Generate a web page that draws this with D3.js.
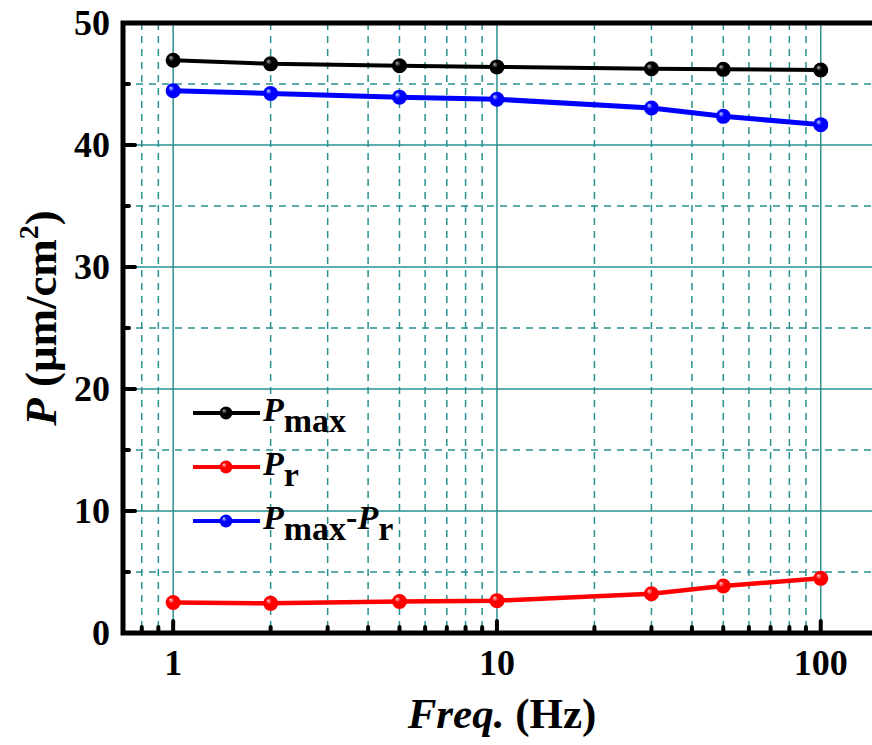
<!DOCTYPE html>
<html>
<head>
<meta charset="utf-8">
<script src="https://cdn.jsdelivr.net/npm/d3@7"></script>
<style>
  body { margin: 0; background: #fff; }
  svg { display: block; font-family: "Liberation Serif", "Times New Roman", serif; }
  .grid-major { stroke: #2a9090; stroke-width: 1.5; }
  .grid-minor { stroke: #2a9090; stroke-width: 1.5; stroke-dasharray: 7 6; }
  .frame { stroke: #000; stroke-width: 5; fill: none; }
  .tick { stroke: #000; stroke-linecap: round; }
  .ticklabel { font-size: 36px; font-weight: bold; }
</style>
</head>
<body>
<svg id="chart" width="872" height="745"></svg>
<script>
// data
var freq = [1, 2, 5, 10, 30, 50, 100];
var pMax = [46.95, 46.65, 46.5, 46.4, 46.25, 46.2, 46.15];
var pR = [2.5, 2.43, 2.58, 2.65, 3.22, 3.85, 4.48];
var pDiff = [44.45, 44.22, 43.92, 43.75, 43.03, 42.35, 41.67];

var xMajor = [1, 10, 100];
var xMinor = [0.8, 0.9, 2, 3, 4, 5, 6, 7, 8, 9, 20, 30, 40, 50, 60, 70, 80, 90];
var yMajor = [10, 20, 30, 40];
var yMinor = [5, 15, 25, 35, 45];
var yLabels = [0, 10, 20, 30, 40, 50];

var series = [
    {name: "max", sub2: null, values: pMax, color: "#000000", hi: "#b0b0b0", width: 4},
    {name: "r", sub2: null, values: pR, color: "#ff0000", hi: "#ffd0d0", width: 4.5},
    {name: "max", sub2: "r", values: pDiff, color: "#0000ff", hi: "#c8d8ff", width: 5}
];

var svg = d3.select("#chart");
var plotLeft = 123, plotRight = 873, plotTop = 23, plotBottom = 633;

var x = d3.scaleLog().domain([0.7, 145]).range([plotLeft, plotRight]);
var y = d3.scaleLinear().domain([0, 50]).range([plotBottom, plotTop]);

// shiny marker gradients
var defs = svg.append("defs");
series.forEach(function(s, i)
{
    var g = defs.append("radialGradient")
        .attr("id", "ball" + i)
        .attr("cx", "50%").attr("cy", "50%").attr("r", "55%")
        .attr("fx", "32%").attr("fy", "30%");
    g.append("stop").attr("offset", "0%").attr("stop-color", s.hi);
    g.append("stop").attr("offset", "35%").attr("stop-color", s.color);
    g.append("stop").attr("offset", "100%").attr("stop-color", s.color);
});

// grid
var grid = svg.append("g");
grid.selectAll(".vmin").data(xMinor).enter().append("line")
    .attr("class", "grid-minor")
    .attr("x1", d => x(d)).attr("x2", d => x(d))
    .attr("y1", plotTop).attr("y2", plotBottom);
grid.selectAll(".vmaj").data(xMajor).enter().append("line")
    .attr("class", "grid-major")
    .attr("x1", d => x(d)).attr("x2", d => x(d))
    .attr("y1", plotTop).attr("y2", plotBottom);
grid.selectAll(".hmin").data(yMinor).enter().append("line")
    .attr("class", "grid-minor")
    .attr("x1", plotLeft).attr("x2", 872)
    .attr("y1", d => y(d)).attr("y2", d => y(d));
grid.selectAll(".hmaj").data(yMajor).enter().append("line")
    .attr("class", "grid-major")
    .attr("x1", plotLeft).attr("x2", 872)
    .attr("y1", d => y(d)).attr("y2", d => y(d));

// ticks (inward)
var ticks = svg.append("g");
ticks.selectAll(".xt").data(xMajor).enter().append("line")
    .attr("class", "tick").attr("stroke-width", 4)
    .attr("x1", d => x(d)).attr("x2", d => x(d))
    .attr("y1", plotBottom).attr("y2", plotBottom - 12);
ticks.selectAll(".xm").data(xMinor).enter().append("line")
    .attr("class", "tick").attr("stroke-width", 4)
    .attr("x1", d => x(d)).attr("x2", d => x(d))
    .attr("y1", plotBottom).attr("y2", plotBottom - 6);
ticks.selectAll(".yt").data(yMajor).enter().append("line")
    .attr("class", "tick").attr("stroke-width", 4)
    .attr("x1", plotLeft).attr("x2", plotLeft + 12)
    .attr("y1", d => y(d)).attr("y2", d => y(d));
ticks.selectAll(".ym").data(yMinor).enter().append("line")
    .attr("class", "tick").attr("stroke-width", 4)
    .attr("x1", plotLeft).attr("x2", plotLeft + 6)
    .attr("y1", d => y(d)).attr("y2", d => y(d));

// frame: left, top, bottom
svg.append("path").attr("class", "frame")
    .attr("d", "M872," + plotTop + "H" + plotLeft + "V" + plotBottom + "H872");

// tick labels
svg.selectAll(".ylab").data(yLabels).enter().append("text")
    .attr("class", "ticklabel")
    .attr("x", 110).attr("y", d => y(d))
    .attr("dy", "0.34em")
    .attr("text-anchor", "end")
    .text(d => d);
svg.selectAll(".xlab").data(xMajor).enter().append("text")
    .attr("class", "ticklabel")
    .attr("x", d => x(d)).attr("y", 675)
    .attr("text-anchor", "middle")
    .text(d => d);

// lines and markers
var line = d3.line()
    .x((d, i) => x(freq[i]))
    .y(d => y(d));

series.forEach(function(s, i)
{
    svg.append("path")
        .attr("d", line(s.values))
        .attr("fill", "none")
        .attr("stroke", s.color)
        .attr("stroke-width", s.width);
    svg.selectAll(".m" + i).data(s.values).enter().append("circle")
        .attr("cx", (d, j) => x(freq[j]))
        .attr("cy", d => y(d))
        .attr("r", 7.5)
        .attr("fill", "url(#ball" + i + ")");
});

// legend
var legRows = [413, 467, 521];
series.forEach(function(s, i)
{
    var g = svg.append("g").attr("transform", "translate(0," + legRows[i] + ")");
    g.append("line").attr("x1", 193).attr("x2", 260).attr("y1", 0).attr("y2", 0)
        .attr("stroke", s.color).attr("stroke-width", 4);
    g.append("circle").attr("cx", 226).attr("cy", 0).attr("r", 6.5)
        .attr("fill", "url(#ball" + i + ")");
    var t = g.append("text").attr("x", 263).attr("y", 8)
        .attr("font-size", "34px").attr("font-weight", "bold");
    t.append("tspan").attr("font-style", "italic").text("P");
    t.append("tspan").attr("dy", 11).text(s.name);
    if (s.sub2)
    {
        t.append("tspan").attr("dy", -11).text("-");
        t.append("tspan").attr("font-style", "italic").text("P");
        t.append("tspan").attr("dy", 11).text(s.sub2);
    }
});

// axis titles
var xt = svg.append("text")
    .attr("x", 502).attr("y", 728)
    .attr("text-anchor", "middle")
    .attr("font-size", "43px").attr("font-weight", "bold");
xt.append("tspan").attr("font-style", "italic").text("Freq.");
xt.append("tspan").text(" (Hz)");

var yt = svg.append("text")
    .attr("transform", "translate(56,318) rotate(-90)")
    .attr("text-anchor", "middle")
    .attr("font-size", "45px").attr("font-weight", "bold");
yt.append("tspan").attr("font-style", "italic").text("P");
yt.append("tspan").text(" (\u03bcm/cm");
yt.append("tspan").attr("font-size", "28px").attr("dy", -18).text("2");
yt.append("tspan").attr("dy", 18).text(")");
</script>
</body>
</html>
